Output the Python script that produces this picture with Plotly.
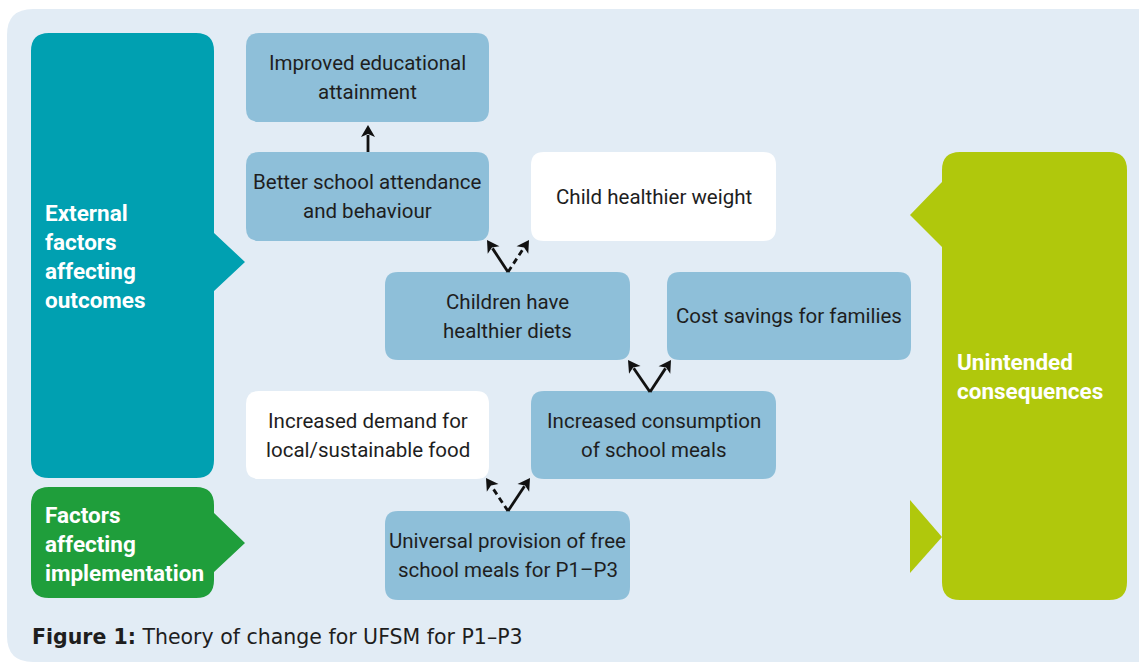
import math
import plotly.graph_objects as go

# ---------------- content ----------------
node_labels = [
    "Improved educational<br>attainment",
    "Better school attendance<br>and behaviour",
    "Child healthier weight",
    "Children have<br>healthier diets",
    "Cost savings for families",
    "Increased demand for<br>local/sustainable food",
    "Increased consumption<br>of school meals",
    "Universal provision of free<br>school meals for P1–P3",
]
node_is_white = [False, False, True, False, False, True, False, False]

side_labels = [
    "External<br>factors<br>affecting<br>outcomes",
    "Factors<br>affecting<br>implementation",
    "Unintended<br>consequences",
]
caption_bold = "Figure 1:"
caption_text = "Theory of change for UFSM for P1–P3"

# ---------------- layout (pixel geometry) ----------------
W, H = 1139, 669
node_boxes = [
    (246, 33, 489, 122),
    (246, 152, 489, 241),
    (531, 152, 776, 241),
    (385, 272, 630, 360),
    (667, 272, 911, 360),
    (246, 391, 489, 479),
    (531, 391, 776, 479),
    (385, 511, 630, 600),
]
# arrows: (x_from, y_from, x_to, y_to, dashed)
arrows = [
    (368, 152, 368, 125, False),
    (508, 272, 487, 240, False),
    (508, 272, 529, 240, True),
    (650, 392, 628, 360, False),
    (650, 392, 671, 360, False),
    (508, 511, 486, 478, True),
    (508, 511, 530, 478, False),
]

PANEL = "#e2ecf5"
BLUE = "#8ebfd9"
TEAL = "#00a0b1"
GREEN = "#1f9e3b"
LIME = "#b0c80c"
TXT = "#1e1e1e"
FONT = "Roboto, Liberation Sans, sans-serif"


def rrect(x0, y0, x1, y1, r, right_ptr=None, left_ptr=None):
    p = f"M {x0+r},{y0} L {x1-r},{y0} Q {x1},{y0} {x1},{y0+r}"
    if right_ptr:
        ya, tx, ty, yb = right_ptr
        p += f" L {x1},{ya} L {tx},{ty} L {x1},{yb}"
    p += f" L {x1},{y1-r} Q {x1},{y1} {x1-r},{y1} L {x0+r},{y1} Q {x0},{y1} {x0},{y1-r}"
    if left_ptr:
        ya, tx, ty, yb = left_ptr
        p += f" L {x0},{yb} L {tx},{ty} L {x0},{ya}"
    p += f" L {x0},{y0+r} Q {x0},{y0} {x0+r},{y0} Z"
    return p


shapes = []
annotations = []

# background panel
shapes.append(dict(type="path", path=rrect(7, 9, 1165, 662, 26),
                   fillcolor=PANEL, line=dict(width=0), layer="below"))

# side boxes
shapes.append(dict(type="path", path=rrect(31, 33, 214, 478, 18, right_ptr=(233, 245, 262, 291)),
                   fillcolor=TEAL, line=dict(width=0)))
shapes.append(dict(type="path", path=rrect(31, 487, 214, 598, 18, right_ptr=(513, 245, 543, 572)),
                   fillcolor=GREEN, line=dict(width=0)))
shapes.append(dict(type="path", path=rrect(942, 152, 1127, 600, 18, left_ptr=(182, 910, 215, 247)),
                   fillcolor=LIME, line=dict(width=0)))
shapes.append(dict(type="path", path="M 910,500 L 942,537 L 910,573 Z",
                   fillcolor=LIME, line=dict(width=0)))

# node boxes and text
LINE = 29
for lab, white, (x0, y0, x1, y1) in zip(node_labels, node_is_white, node_boxes):
    shapes.append(dict(type="path", path=rrect(x0, y0, x1, y1, 13),
                       fillcolor="#ffffff" if white else BLUE, line=dict(width=0)))
    lines = lab.split("<br>")
    cy = (y0 + y1) / 2
    n = len(lines)
    for i, ln in enumerate(lines):
        yy = cy + (i - (n - 1) / 2) * LINE
        annotations.append(dict(x=(x0 + x1) / 2, y=yy, text=ln, showarrow=False,
                                xanchor="center", yanchor="middle",
                                font=dict(family=FONT, size=20.5, color=TXT)))

# side texts
side_pos = [(43, 213), (43, 515), (955, 362)]
for lab, (sx, sy) in zip(side_labels, side_pos):
    for i, ln in enumerate(lab.split("<br>")):
        annotations.append(dict(x=sx, y=sy + i * LINE, text=f"<b>{ln}</b>", showarrow=False,
                                xanchor="left", yanchor="middle",
                                font=dict(family=FONT, size=22.5, color="#ffffff")))

# arrows
for (xa, ya, xb, yb, dashed) in arrows:
    dx, dy = xb - xa, yb - ya
    L = math.hypot(dx, dy)
    ux, uy = dx / L, dy / L
    hl, hw = 12, 7
    bx, by = xb - ux * hl, yb - uy * hl
    shapes.append(dict(type="line", x0=xa, y0=ya, x1=bx + ux * 2, y1=by + uy * 2,
                       line=dict(color="#111111", width=2.8, dash="6px,4px" if dashed else "solid")))
    px, py = -uy, ux
    shapes.append(dict(type="path",
                       path=f"M {xb},{yb} L {bx+px*hw},{by+py*hw} L {bx+ux*3},{by+uy*3} L {bx-px*hw},{by-py*hw} Z",
                       fillcolor="#111111", line=dict(width=0)))

# caption
annotations.append(dict(x=30, y=637, text=f"<b>{caption_bold}</b> {caption_text}", showarrow=False,
                        xanchor="left", yanchor="middle",
                        font=dict(family="DejaVu Sans, sans-serif", size=20.5, color=TXT)))

fig = go.Figure()
fig.update_layout(
    width=W, height=H, margin=dict(l=0, r=0, t=0, b=0),
    paper_bgcolor="#ffffff", plot_bgcolor="rgba(0,0,0,0)",
    xaxis=dict(range=[0, W], visible=False, fixedrange=True),
    yaxis=dict(range=[H, 0], visible=False, fixedrange=True),
    shapes=shapes, annotations=annotations, showlegend=False,
)
fig.write_html("out.html", config={"displayModeBar": False},
               post_script="document.body.style.margin='0';document.body.style.overflow='hidden';")
